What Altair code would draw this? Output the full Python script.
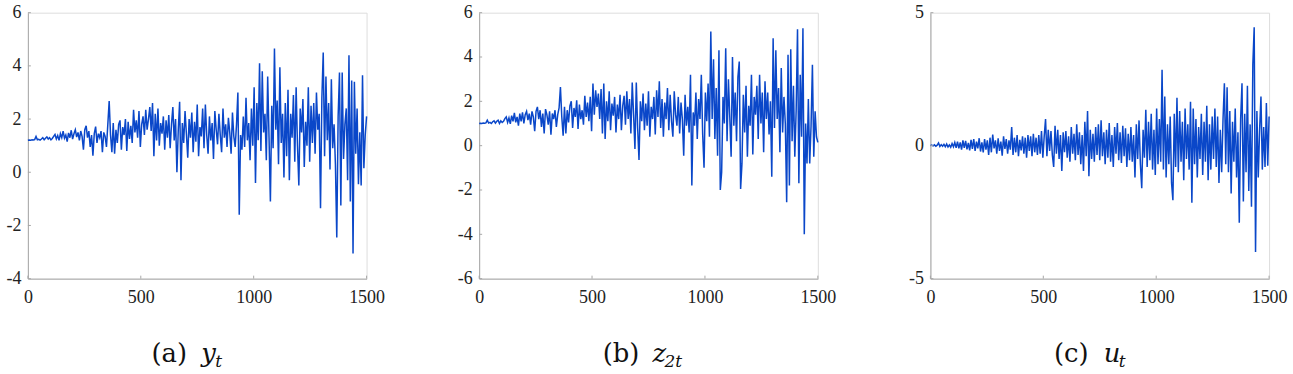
import altair as alt
import pandas as pd

# time index (every 6th observation of 0..1500)
T = list(range(0, 1501, 6))

Y_T = [
    1.20, 1.21, 1.20, 1.22, 1.21, 1.23, 1.35, 1.22, 1.24, 1.21,
    1.25, 1.30, 1.22, 1.28, 1.33, 1.25, 1.30, 1.22, 1.27, 1.35,
    1.42, 1.25, 1.38, 1.20, 1.45, 1.30, 1.55, 1.28, 1.40, 1.15,
    1.48, 1.30, 1.58, 1.25, 1.45, 1.60, 1.32, 1.50, 1.20, 1.55,
    1.35, 0.85, 1.60, 1.75, 1.30, 1.55, 0.95, 1.40, 0.62, 1.45,
    1.72, 1.10, 1.45, 1.30, 1.55, 0.75, 1.50, 1.35, 0.95, 1.80,
    2.68, 1.40, 0.75, 1.85, 0.70, 1.60, 1.10, 1.80, 1.95, 0.85,
    1.70, 1.40, 2.00, 0.80, 1.90, 1.25, 1.75, 1.10, 2.35, 1.50,
    1.95, 1.30, 2.30, 0.95, 1.80, 2.10, 1.40, 2.35, 1.60, 2.00,
    2.45, 1.55, 2.60, 0.60, 2.20, 1.20, 2.40, 1.00, 1.85, 1.45,
    2.10, 0.85, 1.95, 1.30, 2.15, 0.90, 1.80, 2.45, 1.20, 2.00,
    0.00, 1.60, 2.65, -0.30, 1.85, 1.10, 2.30, 1.45, 0.55, 2.00,
    1.30, 2.25, 0.75, 1.90, 1.15, 2.55, 0.60, 1.70, 1.35, 2.40,
    0.90, 2.55, 1.40, 0.70, 2.10, 1.20, 1.85, 0.50, 2.30, 1.60,
    1.05, 2.20, 1.40, 0.75, 2.40, 1.30, 1.80, 0.95, 2.05, 1.50,
    0.70, 2.25, 1.35, 0.95, 1.80, 3.00, -1.60, 1.40, 0.85, 2.10,
    0.95, 2.80, 1.20, 1.85, 0.45, 2.40, 1.00, 3.20, -0.40, 2.60,
    1.20, 4.10, 0.80, 3.80, 1.50, 2.20, 0.45, 3.60, 1.30, -1.10,
    2.50, 0.90, 4.65, 1.60, 2.70, 0.30, 3.95, 1.10, 2.20, -0.20,
    2.60, 0.60, 3.10, -0.30, 2.20, 1.30, 2.90, 0.40, 3.20, 1.00,
    -0.50, 2.40, 1.50, 2.75, 0.20, 1.90, 1.00, 3.20, 0.40, 2.50,
    1.10, 2.60, 0.70, 3.00, 1.60, 2.20, -1.35, 2.80, 4.50, 0.60,
    3.60, 1.20, 2.60, 0.10, 3.50, 0.90, 1.80, 0.30, -2.45, 2.10,
    3.75, -1.25, 3.75, 0.50, 1.80, 2.40, -0.30, 4.40, -1.10, 3.45,
    -3.05, 3.40, 0.70, 2.40, -0.45, 1.50, -0.50, 3.65, 0.15, 1.40,
    2.10,
]

Z_2T = [
    1.00, 1.01, 1.00, 1.02, 1.01, 1.03, 1.15, 1.02, 1.05, 1.00,
    1.08, 1.12, 1.02, 1.10, 1.15, 1.00, 1.12, 1.05, 1.10, 1.22,
    1.30, 1.05, 1.25, 0.98, 1.35, 1.10, 1.48, 1.05, 1.30, 0.90,
    1.45, 1.10, 1.50, 1.00, 1.40, 1.55, 1.15, 1.45, 0.95, 1.55,
    1.30, 0.65, 1.55, 1.75, 1.20, 1.60, 0.85, 1.45, 0.55, 1.65,
    1.40, 0.95, 1.55, 0.50, 1.45, 1.20, 1.60, 0.85, 1.40, 1.70,
    2.65, 1.30, 0.45, 1.75, 0.55, 1.60, 1.05, 1.80, 2.00, 0.80,
    1.70, 1.30, 2.05, 0.75, 1.85, 1.20, 1.60, 0.95, 2.25, 1.30,
    1.95, 1.10, 2.20, 0.65, 2.80, 1.40, 2.50, 1.75, 2.35, 1.20,
    2.55, 0.55, 2.80, 0.30, 2.00, 1.10, 2.45, 0.70, 1.90, 1.35,
    2.20, 0.60, 1.85, 1.20, 2.30, 0.70, 1.80, 2.25, 0.95, 2.45,
    1.20, 2.10, 0.55, 2.85, 1.40, -0.15, 2.85, 0.80, -0.65, 2.00,
    1.10, 2.35, 0.70, 1.90, 0.90, 2.45, 0.40, 1.75, 1.20, 2.20,
    0.50, 2.50, 1.30, 2.90, 0.80, 2.10, 0.40, 1.95, 1.20, 2.60,
    0.70, 2.30, 1.10, 0.40, 2.45, 1.40, 0.90, 2.20, 0.55, 1.95,
    1.20, -0.45, 2.30, 0.90, 1.75, 0.60, 3.20, -1.80, 1.50, 0.90,
    2.40, 0.30, 2.10, 1.20, 3.20, 0.50, -1.00, 2.40, 1.10, 2.80,
    0.40, 5.15, 1.20, 3.90, 0.30, 2.60, -0.45, 4.30, -2.00, -1.20,
    2.20, 1.00, 4.40, 0.20, 3.00, 1.30, -0.50, 4.00, 0.90, 2.40,
    0.20, 3.10, 3.80, -1.95, -0.80, 2.30, 0.60, 2.70, -0.50, 1.80,
    0.90, 3.20, -0.40, 2.20, 1.40, 2.70, 0.30, 3.20, 1.00, 2.40,
    -0.30, 2.90, 1.20, 2.40, 0.50, 2.00, -1.40, 4.85, 0.80, 4.30,
    1.20, 2.60, -0.30, 3.50, 0.60, 2.20, 1.00, -2.55, 4.10, -1.80,
    4.35, 0.20, 2.70, -0.50, 1.60, 5.25, -1.70, 3.20, 0.40, 5.30,
    -4.00, 1.00, -0.80, 2.10, -0.80, 0.90, 3.65, -0.50, 1.55, 0.40,
    0.15,
]

U_T = [
    0.00, 0.02, -0.01, 0.03, -0.02, 0.02, 0.10, -0.03, 0.04, -0.02,
    0.05, -0.04, 0.06, -0.05, 0.03, -0.06, 0.08, -0.04, 0.12, -0.08,
    0.15, -0.10, 0.12, -0.15, 0.20, -0.08, 0.18, -0.14, 0.10, -0.18,
    0.22, -0.12, 0.25, -0.20, 0.15, -0.10, 0.28, -0.22, 0.12, -0.25,
    0.25, -0.15, 0.20, -0.35, 0.30, -0.25, 0.42, -0.10, 0.20, -0.30,
    0.28, -0.20, 0.15, -0.38, 0.35, -0.12, 0.25, -0.30, 0.20, -0.15,
    0.70, -0.35, 0.30, -0.25, 0.40, -0.40, 0.22, -0.18, 0.35, -0.30,
    0.30, -0.45, 0.40, -0.20, 0.35, -0.40, 0.45, -0.25, 0.30, -0.35,
    0.40, -0.30, 0.55, -0.45, 0.35, 1.00, -0.40, 0.60, -0.20, 0.55,
    -0.35, -0.80, 0.75, -0.30, 0.60, -0.50, 0.40, -0.95, 0.50, -0.25,
    0.55, -0.45, 0.35, -0.60, 0.70, -0.30, 0.45, -0.55, 0.80, -0.35,
    0.50, -0.70, 0.40, -0.95, 0.90, -0.40, 1.30, -1.15, 0.60, -0.50,
    0.45, -0.60, 0.70, -0.35, 0.80, -0.55, 0.95, -0.40, 0.50, -0.70,
    0.60, -0.45, 0.85, -0.60, 0.40, -0.80, 0.70, -0.30, 0.85, -0.55,
    0.50, -0.65, 0.75, -0.40, 0.65, -0.80, 0.45, -0.55, 0.70, -0.60,
    0.40, -1.20, 0.80, -0.50, 0.95, -0.70, -1.60, 0.60, -0.45, 1.35,
    -0.80, 0.90, -0.55, 1.20, -0.90, 0.60, -1.10, 1.40, -0.70, 1.00,
    -0.60, 2.85, -0.90, 1.85, -1.20, 0.80, -0.70, 1.10, -1.40, -2.05,
    1.20, -0.80, 1.80, -1.00, 1.30, -0.60, 0.90, -1.30, 1.40, -0.50,
    0.80, -0.90, 1.65, -2.15, 1.40, -0.70, 1.00, -1.20, 0.70, -0.50,
    1.20, -1.10, 0.90, -0.60, 1.50, -1.30, 0.80, -0.90, 1.10, -0.50,
    1.40, -0.80, 1.10, -1.40, 0.60, -1.00, 1.00, 2.35, -0.70, 2.20,
    -1.00, 1.30, -1.80, 0.90, -0.60, 1.40, -1.20, 0.50, -2.90, 1.00,
    2.35, -2.10, 1.20, -1.00, 2.25, -1.70, 0.80, -2.30, 3.05, 4.45,
    -4.00, 1.30, -1.20, 0.60, 1.85, -0.90, 0.70, -0.80, 1.60, -0.75,
    1.10,
]

X_TICKS = [0, 500, 1000, 1500]
Y_TICKS_A = [-4, -2, 0, 2, 4, 6]
Y_TICKS_B = [-6, -4, -2, 0, 2, 4, 6]
Y_TICKS_C = [-5, 0, 5]

W, H = 340, 267
LINE_COLOR = "#0a47c9"
AXIS_COLOR = "#a8a8a8"
LABEL_COLOR = "#222222"
LABEL_FONT = "Liberation Serif"
CAP_FONT = "DejaVu Serif"
PLAIN = "'' + datum.value"


def panel(values, domain, yticks, tag, var, sub, sub_dx):
    df = pd.DataFrame({"t": T, "v": values})
    xenc = alt.X(
        "t:Q",
        scale=alt.Scale(domain=[0, 1500], nice=False, zero=False),
        axis=alt.Axis(values=X_TICKS, title=None, grid=False, tickSize=0,
                      labelPadding=10, labelFlush=False, labelExpr=PLAIN,
                      labelFont=LABEL_FONT, labelFontSize=18, labelColor=LABEL_COLOR,
                      domainColor=AXIS_COLOR),
    )
    yenc = alt.Y(
        "v:Q",
        scale=alt.Scale(domain=domain, nice=False, zero=False),
        axis=alt.Axis(values=yticks, title=None, grid=False, tickSize=0,
                      labelPadding=7, labelExpr=PLAIN, labelFlush=False,
                      labelFont=LABEL_FONT, labelFontSize=18, labelColor=LABEL_COLOR,
                      domainColor=AXIS_COLOR),
    )
    line = alt.Chart(df).mark_line(color=LINE_COLOR, strokeWidth=1.5).encode(x=xenc, y=yenc)

    xt = pd.DataFrame({"t": X_TICKS})
    xtick = alt.Chart(xt).mark_rule(color=AXIS_COLOR, strokeWidth=1).encode(
        x="t:Q", y=alt.value(H), y2=alt.value(H - 3))
    yt = pd.DataFrame({"v": yticks})
    ytick = alt.Chart(yt).mark_rule(color=AXIS_COLOR, strokeWidth=1).encode(
        y="v:Q", x=alt.value(0), x2=alt.value(3))

    cap1 = alt.Chart(pd.DataFrame({"s": [tag]})).mark_text(
        font=CAP_FONT, fontSize=26, align="left", baseline="alphabetic",
        color="#111111").encode(x=alt.value(124), y=alt.value(351), text="s:N")
    cap2 = alt.Chart(pd.DataFrame({"s": [var]})).mark_text(
        font=CAP_FONT, fontStyle="italic", fontSize=26, align="left",
        baseline="alphabetic", color="#111111").encode(
        x=alt.value(174), y=alt.value(351), text="s:N")
    cap3 = alt.Chart(pd.DataFrame({"s": [sub]})).mark_text(
        font=CAP_FONT, fontStyle="italic", fontSize=17, align="left",
        baseline="alphabetic", color="#111111").encode(
        x=alt.value(174 + sub_dx), y=alt.value(356), text="s:N")

    return alt.layer(line, xtick, ytick, cap1, cap2, cap3).properties(width=W, height=H)


pa = panel(Y_T, [-4, 6], Y_TICKS_A, "(a)", "y", "t", 14)
pb = panel(Z_2T, [-6, 6], Y_TICKS_B, "(b)", "z", "2t", 12)
pc = panel(U_T, [-5, 5], Y_TICKS_C, "(c)", "u", "t", 15)

chart = (
    alt.hconcat(pa, pb, pc, spacing=71)
    .properties(padding={"left": 5, "top": 2, "right": 5, "bottom": 5})
    .configure_view(stroke=None)
    .configure(background="white")
)

chart.save("out.html", embed_options={"renderer": "svg", "actions": False})
